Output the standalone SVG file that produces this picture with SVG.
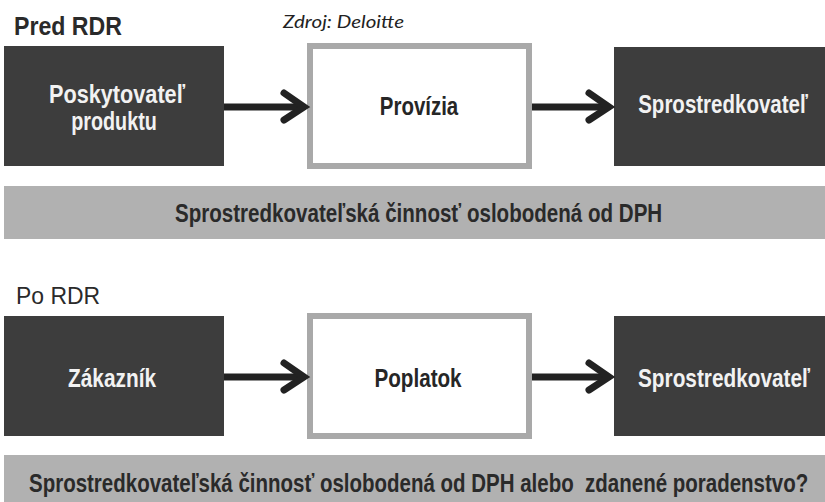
<svg xmlns="http://www.w3.org/2000/svg" width="825" height="502" viewBox="0 0 825 502">
<style>
.dark{fill:#3d3d3d;}
.mid{fill:#ffffff;stroke:#a9a9a9;stroke-width:6;}
.bar{fill:#b1b1b1;}
.lbl{font-family:"Liberation Sans Narrow","Liberation Sans",Arial,sans-serif;font-weight:bold;font-size:25px;fill:#f2f2f2;text-anchor:middle;}
.lbld{font-family:"Liberation Sans Narrow","Liberation Sans",Arial,sans-serif;font-weight:bold;font-size:25px;fill:#262626;text-anchor:middle;}
.bartxt{font-family:"Liberation Sans Narrow","Liberation Sans",Arial,sans-serif;font-weight:bold;font-size:25px;fill:#2a2a2a;}
.head{font-family:"Liberation Sans Narrow","Liberation Sans",Arial,sans-serif;fill:#2a2a2a;}
.src{font-family:Lato,"Open Sans",sans-serif;font-style:italic;font-size:17px;fill:#222;}
.conn line{stroke:#222;stroke-width:7;}
.conn polyline{fill:none;stroke:#222;stroke-width:7;stroke-linecap:round;stroke-linejoin:miter;}
</style>
<rect width="825" height="502" fill="#ffffff"/>
<text class="head" transform="translate(14,35) scale(0.85,1)" font-size="25" font-weight="bold" textLength="127" lengthAdjust="spacingAndGlyphs">Pred RDR</text>
<text class="src" x="283" y="28" textLength="121" lengthAdjust="spacingAndGlyphs">Zdroj: Deloitte</text>
<g id="bar1"><rect class="bar" x="4" y="186" width="821" height="53"/>
<text class="bartxt" transform="translate(175,222) scale(0.8,1)" textLength="609" lengthAdjust="spacingAndGlyphs">Sprostredkovateľská činnosť oslobodená od DPH</text></g>
<text class="head" transform="translate(16,304) scale(0.85,1)" font-size="24" textLength="99" lengthAdjust="spacingAndGlyphs">Po RDR</text>
<g id="bar2"><rect class="bar" x="4" y="455" width="821" height="47"/>
<text class="bartxt" transform="translate(29,492) scale(0.8,1)" xml:space="preserve" textLength="974" lengthAdjust="spacingAndGlyphs">Sprostredkovateľská činnosť oslobodená od DPH alebo  zdanené poradenstvo?</text></g>
<g id="poskytovatel"><rect class="dark" x="4" y="46" width="220" height="120"/>
<text class="lbl" transform="translate(117,103) scale(0.8,1)" textLength="170" lengthAdjust="spacingAndGlyphs">Poskytovateľ</text>
<text class="lbl" transform="translate(114,130) scale(0.8,1)" textLength="107" lengthAdjust="spacingAndGlyphs">produktu</text></g>
<g id="provizia"><rect class="mid" x="310" y="46" width="219" height="120"/>
<text class="lbld" transform="translate(419,115) scale(0.8,1)" textLength="98" lengthAdjust="spacingAndGlyphs">Provízia</text></g>
<g id="sprostredkovatel1"><rect class="dark" x="614" y="47" width="211" height="119"/>
<text class="lbl" transform="translate(723,113) scale(0.8,1)" textLength="212" lengthAdjust="spacingAndGlyphs">Sprostredkovateľ</text></g>
<g id="zakaznik"><rect class="dark" x="4" y="316" width="220" height="120"/>
<text class="lbl" transform="translate(112,387) scale(0.8,1)" textLength="110" lengthAdjust="spacingAndGlyphs">Zákazník</text></g>
<g id="poplatok"><rect class="mid" x="310" y="316" width="219" height="120"/>
<text class="lbld" transform="translate(418,387) scale(0.8,1)" textLength="109" lengthAdjust="spacingAndGlyphs">Poplatok</text></g>
<g id="sprostredkovatel2"><rect class="dark" x="614" y="316" width="211" height="120"/>
<text class="lbl" transform="translate(724,387) scale(0.8,1)" textLength="215" lengthAdjust="spacingAndGlyphs">Sprostredkovateľ</text></g>
<g id="connectors" class="conn">
<line x1="224" y1="107" x2="302" y2="107"/><polyline points="284,93 304,107 284,120"/>
<line x1="532" y1="107" x2="608" y2="107"/><polyline points="589,93 609,107 589,120"/>
<line x1="224" y1="377" x2="302" y2="377"/><polyline points="284,363 304,377 284,390"/>
<line x1="532" y1="377" x2="608" y2="377"/><polyline points="589,363 609,377 589,390"/>
</g>
</svg>
